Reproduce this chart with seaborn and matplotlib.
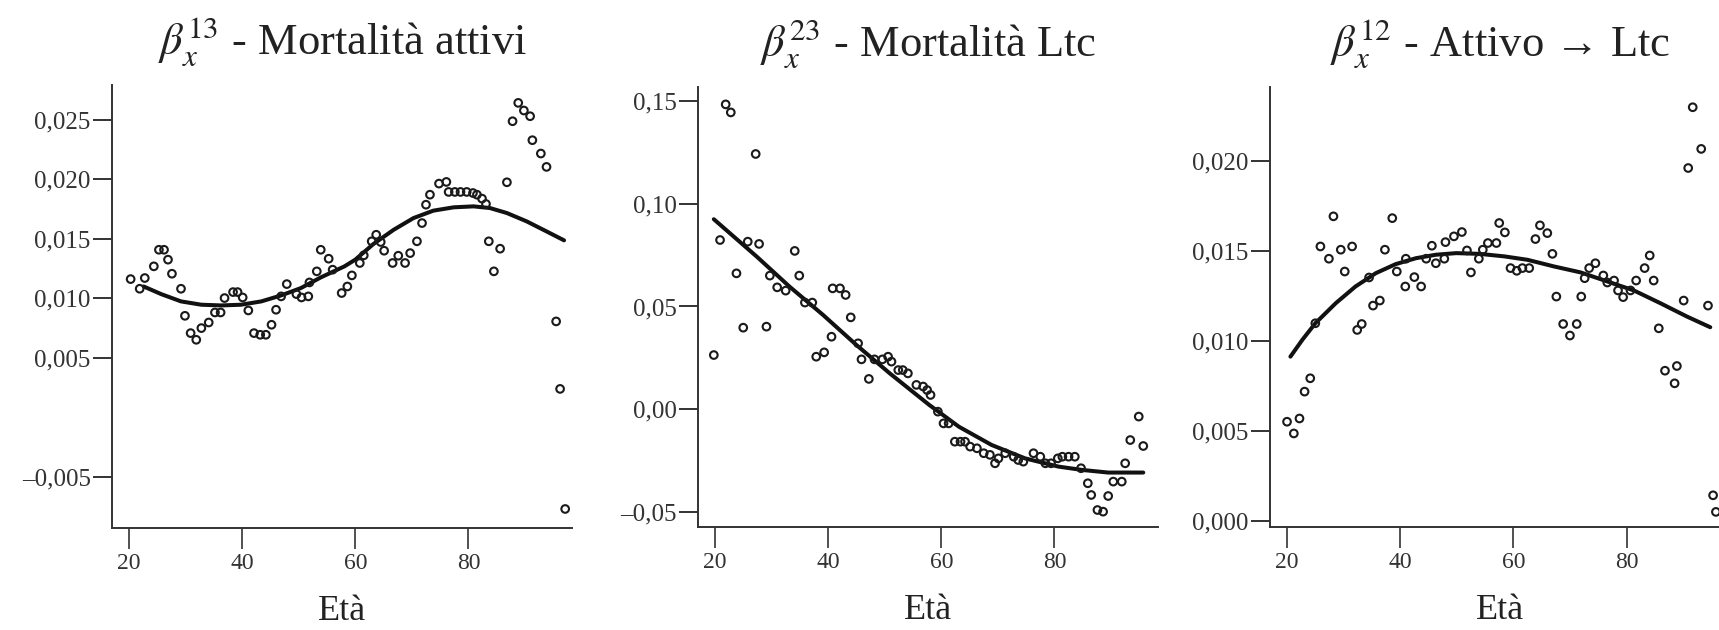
import numpy as np
import pandas as pd
import seaborn as sns
import matplotlib.pyplot as plt
from matplotlib.ticker import FixedLocator, FixedFormatter

# ---- data ----
# panel 1: mortalita attivi (beta 13)
eta1 = [20.3, 21.9, 22.8, 24.4, 25.3, 26.2, 26.9, 27.6, 29.2, 29.9, 30.9, 31.9,
        32.8, 34.1, 35.2, 36.2, 36.9, 38.4, 39.2, 40.1, 41.1, 42.1, 43.2, 44.2,
        45.2, 46.0, 46.9, 47.9, 49.6, 50.5, 51.7, 51.9, 53.2, 53.9, 55.3, 56.0,
        57.6, 58.6, 59.4, 60.8, 61.5, 62.9, 63.7, 64.5, 65.1, 66.6, 67.6, 68.8,
        69.7, 70.9, 71.8, 72.5, 73.2, 74.8, 76.1, 76.5, 77.6, 78.6, 79.7, 80.8,
        81.5, 82.4, 83.1, 83.6, 84.5, 85.6, 86.8, 87.8, 88.8, 89.8, 90.9, 91.3,
        92.8, 93.8, 95.5, 96.2, 97.1]
beta13 = [0.01162, 0.01081, 0.01171, 0.01269, 0.01408, 0.01408, 0.01325, 0.01207,
          0.01081, 0.00854, 0.00709, 0.00653, 0.00751, 0.00798, 0.00882, 0.00882,
          0.01003, 0.01053, 0.01053, 0.01008, 0.00899, 0.00709, 0.00695, 0.00695,
          0.00779, 0.00905, 0.01017, 0.01120, 0.01036, 0.01008, 0.01017, 0.01134,
          0.01227, 0.01408, 0.01333, 0.01241, 0.01045, 0.01100, 0.01193, 0.01297,
          0.01361, 0.01479, 0.01534, 0.01473, 0.01400, 0.01297, 0.01358, 0.01297,
          0.01380, 0.01479, 0.01632, 0.01786, 0.01870, 0.01963, 0.01977, 0.01893,
          0.01893, 0.01893, 0.01893, 0.01884, 0.01870, 0.01837, 0.01792, 0.01479,
          0.01227, 0.01417, 0.01974, 0.02486, 0.02640, 0.02576, 0.02528, 0.02327,
          0.02215, 0.02103, 0.00807, 0.00241, -0.00766]
fit_eta1 = [22.6, 25.7, 29.2, 32.8, 36.3, 39.8, 43.4, 46.9, 50.4, 53.9, 58.1, 60.0,
            63.2, 66.8, 70.3, 73.8, 77.4, 80.9, 83.8, 86.8, 90.3, 93.8, 96.9]
fit13 = [0.01100, 0.01036, 0.00975, 0.00947, 0.00941, 0.00947, 0.00975, 0.01025,
         0.01087, 0.01176, 0.01269, 0.01325, 0.01456, 0.01576, 0.01674, 0.01736,
         0.01764, 0.01772, 0.01758, 0.01716, 0.01646, 0.01562, 0.01487]

# panel 2: mortalita Ltc (beta 23)
eta2 = [19.8, 20.9, 21.9, 22.8, 23.8, 25.0, 25.8, 27.2, 27.8, 29.1, 29.7, 31.0,
        32.5, 34.1, 34.9, 35.9, 37.2, 37.9, 39.3, 40.6, 40.8, 42.1, 43.1, 44.0,
        45.3, 45.9, 47.2, 48.2, 49.6, 50.6, 51.2, 52.4, 53.2, 54.1, 55.6, 56.8,
        57.5, 58.1, 59.4, 60.4, 61.3, 62.4, 63.4, 64.2, 65.1, 66.3, 67.5, 68.6,
        69.5, 70.1, 71.3, 72.8, 73.6, 74.5, 76.3, 77.5, 78.4, 79.4, 80.6, 81.4,
        82.5, 83.6, 84.7, 85.9, 86.5, 87.6, 88.6, 89.5, 90.4, 91.9, 92.5, 93.4,
        94.9, 95.7]
beta23 = [0.0264, 0.0823, 0.1482, 0.1443, 0.0661, 0.0397, 0.0815, 0.1241, 0.0804,
          0.0402, 0.0650, 0.0593, 0.0577, 0.0770, 0.0650, 0.0519, 0.0519, 0.0256,
          0.0277, 0.0353, 0.0588, 0.0588, 0.0556, 0.0447, 0.0321, 0.0243, 0.0148,
          0.0243, 0.0243, 0.0256, 0.0232, 0.0191, 0.0191, 0.0175, 0.0119, 0.0111,
          0.0094, 0.0070, -0.0011, -0.0068, -0.0068, -0.0157, -0.0157, -0.0157,
          -0.0181, -0.0189, -0.0213, -0.0221, -0.0262, -0.0238, -0.0213, -0.0230,
          -0.0246, -0.0254, -0.0213, -0.0230, -0.0262, -0.0262, -0.0238, -0.0230,
          -0.0230, -0.0230, -0.0286, -0.0359, -0.0416, -0.0489, -0.0497, -0.0421,
          -0.0351, -0.0351, -0.0262, -0.0149, -0.0035, -0.0178]
fit_eta2 = [19.8, 27.4, 33.2, 39.1, 45.0, 50.9, 57.9, 59.5, 63.1, 68.9, 74.8, 80.7,
            84.8, 89.5, 95.7]
fit23 = [0.0924, 0.0742, 0.0596, 0.0459, 0.0313, 0.0175, 0.0021, -0.0011, -0.0084,
         -0.0173, -0.0238, -0.0278, -0.0294, -0.0307, -0.0307]

# panel 3: attivo -> Ltc (beta 12)
eta3 = [20.0, 21.2, 22.2, 23.1, 24.1, 25.0, 25.9, 27.4, 28.2, 29.5, 30.2, 31.5,
        32.4, 33.2, 34.5, 35.2, 36.4, 37.3, 38.6, 39.4, 40.9, 41.0, 42.5, 43.7,
        44.6, 45.6, 46.3, 47.8, 48.0, 49.5, 50.9, 51.8, 52.5, 53.9, 54.6, 55.5,
        57.0, 57.5, 58.5, 59.5, 60.6, 61.6, 62.8, 63.9, 64.7, 66.0, 66.9, 67.6,
        68.8, 70.0, 71.2, 72.0, 72.6, 73.4, 74.5, 75.9, 76.6, 77.8, 78.5, 79.4,
        80.7, 81.7, 83.2, 84.1, 84.8, 85.7, 86.8, 88.5, 88.9, 90.1, 90.9, 91.7,
        93.2, 94.4, 95.3, 95.8]
beta12 = [0.00552, 0.00487, 0.00570, 0.00719, 0.00793, 0.01098, 0.01524, 0.01456,
          0.01691, 0.01506, 0.01385, 0.01524, 0.01061, 0.01094, 0.01352, 0.01196,
          0.01224, 0.01506, 0.01681, 0.01385, 0.01302, 0.01456, 0.01354, 0.01302,
          0.01456, 0.01528, 0.01431, 0.01456, 0.01548, 0.01580, 0.01604, 0.01502,
          0.01380, 0.01456, 0.01506, 0.01543, 0.01543, 0.01654, 0.01602, 0.01404,
          0.01389, 0.01404, 0.01404, 0.01565, 0.01641, 0.01598, 0.01483, 0.01246,
          0.01094, 0.01030, 0.01094, 0.01246, 0.01348, 0.01404, 0.01431, 0.01363,
          0.01324, 0.01335, 0.01280, 0.01243, 0.01280, 0.01335, 0.01404, 0.01474,
          0.01335, 0.01070, 0.00835, 0.00765, 0.00861, 0.01224, 0.01959, 0.02296,
          0.02065, 0.01196, 0.00144, 0.00052]
fit_eta3 = [20.6, 22.7, 25.0, 28.6, 32.1, 35.7, 39.2, 42.8, 46.3, 49.9, 54.0, 58.4,
            62.5, 67.2, 71.9, 76.6, 81.3, 86.0, 90.7, 94.8]
fit12 = [0.00913, 0.01006, 0.01098, 0.01209, 0.01302, 0.01376, 0.01426, 0.01459,
         0.01478, 0.01487, 0.01483, 0.01469, 0.01450, 0.01413, 0.01380, 0.01330,
         0.01280, 0.01209, 0.01135, 0.01076]

titoli = [r"$\beta_x^{13}$ - Mortalità attivi",
          r"$\beta_x^{23}$ - Mortalità Ltc",
          r"$\beta_x^{12}$ - Attivo → Ltc"]
yticks = [[0.025, 0.020, 0.015, 0.010, 0.005, -0.005],
          [0.15, 0.10, 0.05, 0.00, -0.05],
          [0.020, 0.015, 0.010, 0.005, 0.000]]
ytick_labels = [["0,025", "0,020", "0,015", "0,010", "0,005", "–0,005"],
                ["0,15", "0,10", "0,05", "0,00", "–0,05"],
                ["0,020", "0,015", "0,010", "0,005", "0,000"]]
xticks = [20, 40, 60, 80]

sns.set_style("ticks")
plt.rcParams['font.family'] = ['Liberation Serif', 'DejaVu Serif']
plt.rcParams['mathtext.fontset'] = 'stix'

fig = plt.figure(figsize=(17.19, 6.3), dpi=100)
boxes = [[0.0653, 0.1624, 0.2676, 0.7027],
         [0.4062, 0.1640, 0.2676, 0.6984],
         [0.7390, 0.1640, 0.2676, 0.6984]]
ylims = [(-0.00923, 0.0279), (-0.057, 0.1568), (-0.0003, 0.0241)]

panels = [(eta1, beta13, fit_eta1, fit13),
          (eta2, beta23, fit_eta2, fit23),
          (eta3, beta12, fit_eta3, fit12)]

ink = '#1a1a1a'
for i, (ex, by, fx, fy) in enumerate(panels):
    ax = fig.add_axes(boxes[i])
    sns.lineplot(x=fx, y=fy, ax=ax, color='#111111', linewidth=2.9, zorder=2)
    sns.scatterplot(x=ex, y=by, ax=ax, marker='o', s=30, facecolors='none',
                    edgecolor=ink, linewidth=1.5, zorder=3)
    ax.set_xlim(17.05, 98.35)
    ax.set_ylim(*ylims[i])
    ax.xaxis.set_major_locator(FixedLocator(xticks))
    ax.yaxis.set_major_locator(FixedLocator(yticks[i]))
    ax.yaxis.set_major_formatter(FixedFormatter(ytick_labels[i]))
    sns.despine(ax=ax)
    for s in ['left', 'bottom']:
        ax.spines[s].set_linewidth(1.4)
        ax.spines[s].set_color('#333333')
    ax.tick_params(axis='y', length=14, width=1.4, pad=1.5, labelsize=18,
                   color='#333333', labelcolor='#333333')
    ax.tick_params(axis='x', length=15, width=1.2, pad=3, labelsize=17,
                   color='#333333', labelcolor='#333333')
    ax.set_xlabel("Età", fontsize=26, labelpad=15, color='#222222')
    ax.set_ylabel("")
    ax.set_title(titoli[i], fontsize=32, pad=22, color='#222222')

fig.savefig("out.png", dpi=100)
